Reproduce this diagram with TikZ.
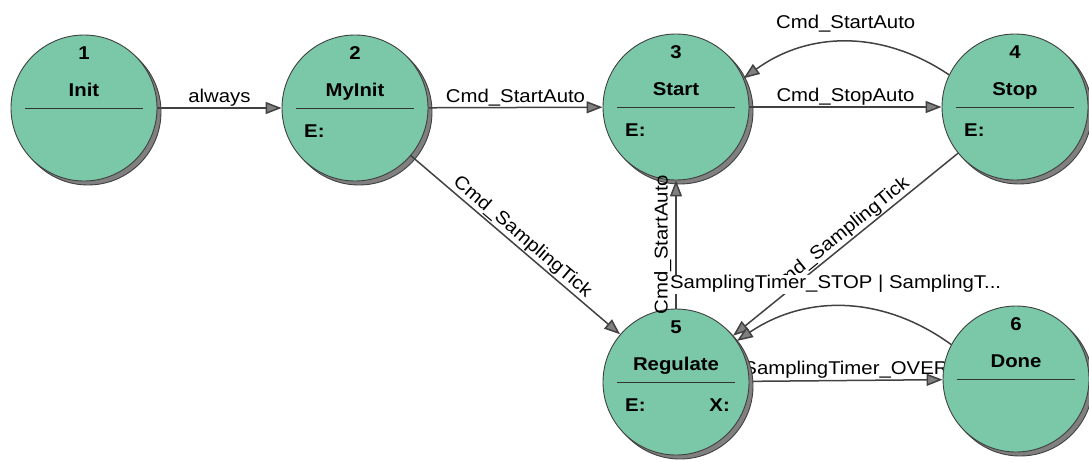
\documentclass[tikz,border=0pt]{standalone}
\usepackage{tikz}
\usepackage{fontspec}
\setmainfont[FakeStretch=1.1]{Liberation Sans}
\usetikzlibrary{arrows.meta,shadows}
\definecolor{stategreen}{RGB}{122,200,168}
\definecolor{shadowgray}{RGB}{128,128,128}
\definecolor{linegray}{RGB}{66,66,66}
\pgfdeclarelayer{background}
\pgfsetlayers{background,main}

\begin{document}
\begin{tikzpicture}[x=1pt, y=-1pt,
  >={Triangle[length=16pt,width=12pt,fill=shadowgray]},
  every node/.style={font=\fontsize{18.5}{20}\selectfont},
  statecircle/.style={circle, draw=black!75, line width=0.9pt, fill=stategreen,
    minimum size=146pt, inner sep=0pt,
    drop shadow={shadow xshift=4pt, shadow yshift=-4pt, opacity=1,
      fill=shadowgray, draw=black!75},
    path picture={\draw[black!80, line width=1pt]
      ([xshift=-59pt]path picture bounding box.center) --
      ([xshift=59pt]path picture bounding box.center);}},
  statenum/.style={font=\fontsize{18.5}{20}\selectfont\bfseries, anchor=base, inner sep=0pt},
  entry/.style={font=\fontsize{18.5}{20}\selectfont\bfseries, anchor=base west, inner sep=0pt},
  trans/.style={->, draw=linegray, line width=1.5pt},
  translabel/.style={inner sep=1pt}]
  \useasboundingbox (0,0) rectangle (1089,461);

  % states
  \node[statecircle] (init) at (84,108) {};
  \node[statecircle] (myinit) at (355,108) {};
  \node[statecircle] (start) at (676,107) {};
  \node[statecircle] (stop) at (1015,107) {};
  \node[statecircle] (regulate) at (676,382) {};
  \node[statecircle] (done) at (1016,379) {};

  \node[statenum] (n1) at ([yshift=49pt]init.center) {1};
  \node[statenum] (t1) at ([yshift=12pt]init.center) {Init};
  \node[statenum] (n2) at ([yshift=49pt]myinit.center) {2};
  \node[statenum] (t2) at ([yshift=12pt]myinit.center) {MyInit};
  \node[entry] (e2) at ([xshift=-51pt,yshift=-29.5pt]myinit.center) {E:};
  \node[statenum] (n3) at ([yshift=49pt]start.center) {3};
  \node[statenum] (t3) at ([yshift=12pt]start.center) {Start};
  \node[entry] (e3) at ([xshift=-51pt,yshift=-29.5pt]start.center) {E:};
  \node[statenum] (n4) at ([yshift=49pt]stop.center) {4};
  \node[statenum] (t4) at ([yshift=12pt]stop.center) {Stop};
  \node[entry] (e4) at ([xshift=-51pt,yshift=-29.5pt]stop.center) {E:};
  \node[statenum] (n5) at ([yshift=49pt]regulate.center) {5};
  \node[statenum] (t5) at ([yshift=12pt]regulate.center) {Regulate};
  \node[entry] (e5) at ([xshift=-51pt,yshift=-29.5pt]regulate.center) {E:};
  \node[entry, anchor=base east] (x5) at ([xshift=54pt,yshift=-29.5pt]regulate.center) {X:};
  \node[statenum] (n6) at ([yshift=49pt]done.center) {6};
  \node[statenum] (t6) at ([yshift=12pt]done.center) {Done};

  % transitions
  \draw[trans] (init) -- node[translabel, above] {always} (myinit);
  \draw[trans] (myinit) -- node[translabel, above] {Cmd\_StartAuto} (start);
  \draw[trans] (start) -- node[translabel, above] {Cmd\_StopAuto} (stop);
  \draw[trans] (stop.154) to[bend right=35] node[translabel, above=8pt] {Cmd\_StartAuto} (start.23);
  \draw[trans] (myinit) -- node[translabel, above, sloped] {Cmd\_SamplingTick} (regulate);
  \draw[trans] (regulate) -- node[translabel, above=3pt, sloped] {Cmd\_StartAuto} (start);
  \draw[trans] (stop) -- node[translabel, above, sloped] {Cmd\_SamplingTick} (regulate);
  \draw[trans] (done.152) to[bend right=35] node[translabel, fill=white, above=12pt, xshift=-9pt]
    {SamplingTimer\_STOP | SamplingT...} (regulate.34);
  \begin{pgfonlayer}{background}
    \draw[trans] (regulate) -- node[translabel, above] {SamplingTimer\_OVER} (done);
  \end{pgfonlayer}
\end{tikzpicture}
\end{document}
